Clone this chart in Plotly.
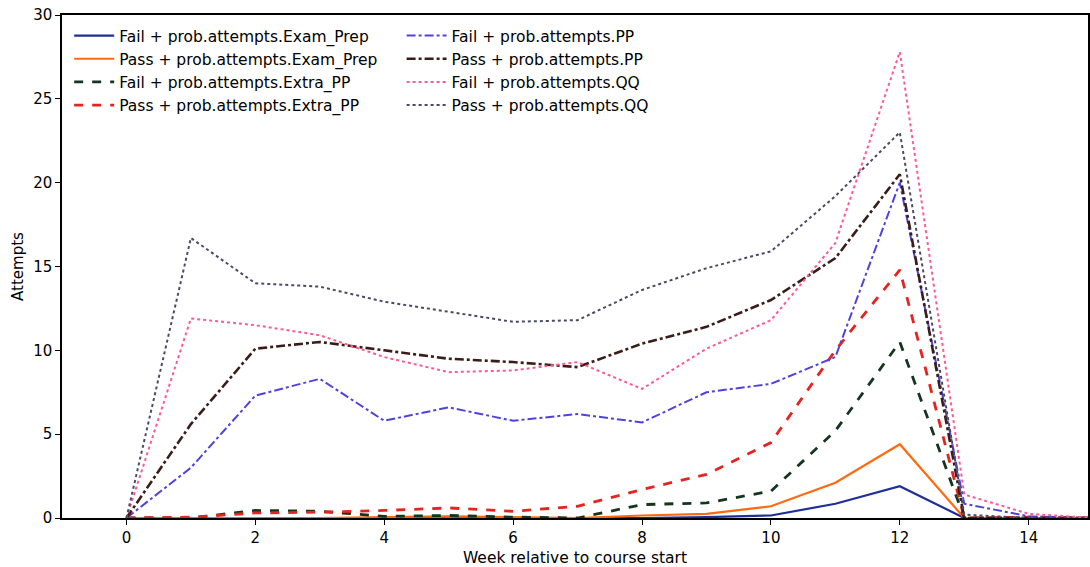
import plotly.graph_objects as go

weeks = list(range(0, 16))

fail_exam_prep = [0, 0, 0, 0, 0, 0, 0, 0, 0, 0.05, 0.15, 0.85, 1.9, 0, 0, 0]
pass_exam_prep = [0, 0, 0, 0, 0.05, 0.1, 0.05, 0, 0.15, 0.25, 0.7, 2.1, 4.4, 0, 0, 0]
fail_extra_pp = [0, 0, 0.45, 0.4, 0.1, 0.15, 0.05, 0, 0.8, 0.9, 1.6, 5.2, 10.5, 0, 0, 0]
pass_extra_pp = [0, 0.05, 0.3, 0.35, 0.45, 0.6, 0.4, 0.7, 1.7, 2.6, 4.5, 10.0, 14.8, 0, 0.05, 0]
fail_pp = [0, 3.0, 7.3, 8.3, 5.8, 6.6, 5.8, 6.2, 5.7, 7.5, 8.0, 9.6, 20.0, 0.85, 0.1, 0]
pass_pp = [0, 5.6, 10.1, 10.5, 10.0, 9.5, 9.3, 9.0, 10.4, 11.4, 13.0, 15.5, 20.5, 0, 0, 0]
fail_qq = [0, 11.9, 11.5, 10.9, 9.6, 8.7, 8.8, 9.3, 7.7, 10.1, 11.8, 16.4, 27.8, 1.4, 0.25, 0]
pass_qq = [0, 16.7, 14.0, 13.8, 12.9, 12.3, 11.7, 11.8, 13.6, 14.9, 15.9, 19.2, 23.0, 0.2, 0, 0]

series = [
    ("Fail + prob.attempts.Exam_Prep", fail_exam_prep, "#1f2f9a", "solid", 2.2, "legend"),
    ("Pass + prob.attempts.Exam_Prep", pass_exam_prep, "#ff6a10", "solid", 2.2, "legend"),
    ("Fail + prob.attempts.Extra_PP", fail_extra_pp, "#16351f", "dash", 2.8, "legend"),
    ("Pass + prob.attempts.Extra_PP", pass_extra_pp, "#e52420", "dash", 2.8, "legend"),
    ("Fail + prob.attempts.PP", fail_pp, "#4f43e0", "dashdot", 2.0, "legend2"),
    ("Pass + prob.attempts.PP", pass_pp, "#3a1d18", "dashdot", 2.6, "legend2"),
    ("Fail + prob.attempts.QQ", fail_qq, "#ff5a90", "dot", 2.0, "legend2"),
    ("Pass + prob.attempts.QQ", pass_qq, "#4a4a68", "dot", 2.0, "legend2"),
]

fig = go.Figure()
for name, vals, color, dash, width, leg in series:
    fig.add_trace(go.Scatter(
        x=weeks, y=vals, mode="lines", name=name,
        line=dict(color=color, dash=dash, width=width),
        legend=leg,
    ))

font_family = "DejaVu Sans"
fig.update_layout(
    width=1090, height=567,
    margin=dict(l=62, r=0, t=15, b=49),
    paper_bgcolor="white", plot_bgcolor="white",
    font=dict(family=font_family, size=15, color="black"),
    showlegend=True,
    legend=dict(x=0.007, y=0.992, xanchor="left", yanchor="top",
                bgcolor="rgba(255,255,255,0)", borderwidth=0,
                font=dict(size=15.5), tracegroupgap=0, itemwidth=40),
    legend2=dict(x=0.331, y=0.992, xanchor="left", yanchor="top",
                 bgcolor="rgba(255,255,255,0)", borderwidth=0,
                 font=dict(size=15.5), tracegroupgap=0, itemwidth=40),
    xaxis=dict(
        range=[-1, 14.92], tickmode="array", tickvals=[0, 2, 4, 6, 8, 10, 12, 14],
        showgrid=False, zeroline=False, showline=True, linecolor="black", linewidth=1.5,
        mirror=True, ticks="outside", ticklen=5, tickcolor="black",
        title=dict(text="Week relative to course start", font=dict(size=15.5), standoff=8),
        tickfont=dict(size=15),
    ),
    yaxis=dict(
        range=[0, 30], tickmode="array", tickvals=[0, 5, 10, 15, 20, 25, 30],
        showgrid=False, zeroline=False, showline=True, linecolor="black", linewidth=1.5,
        mirror=True, ticks="outside", ticklen=5, tickcolor="black",
        title=dict(text="Attempts", font=dict(size=15), standoff=6),
        tickfont=dict(size=15),
    ),
)

fig.write_html("out.html")
